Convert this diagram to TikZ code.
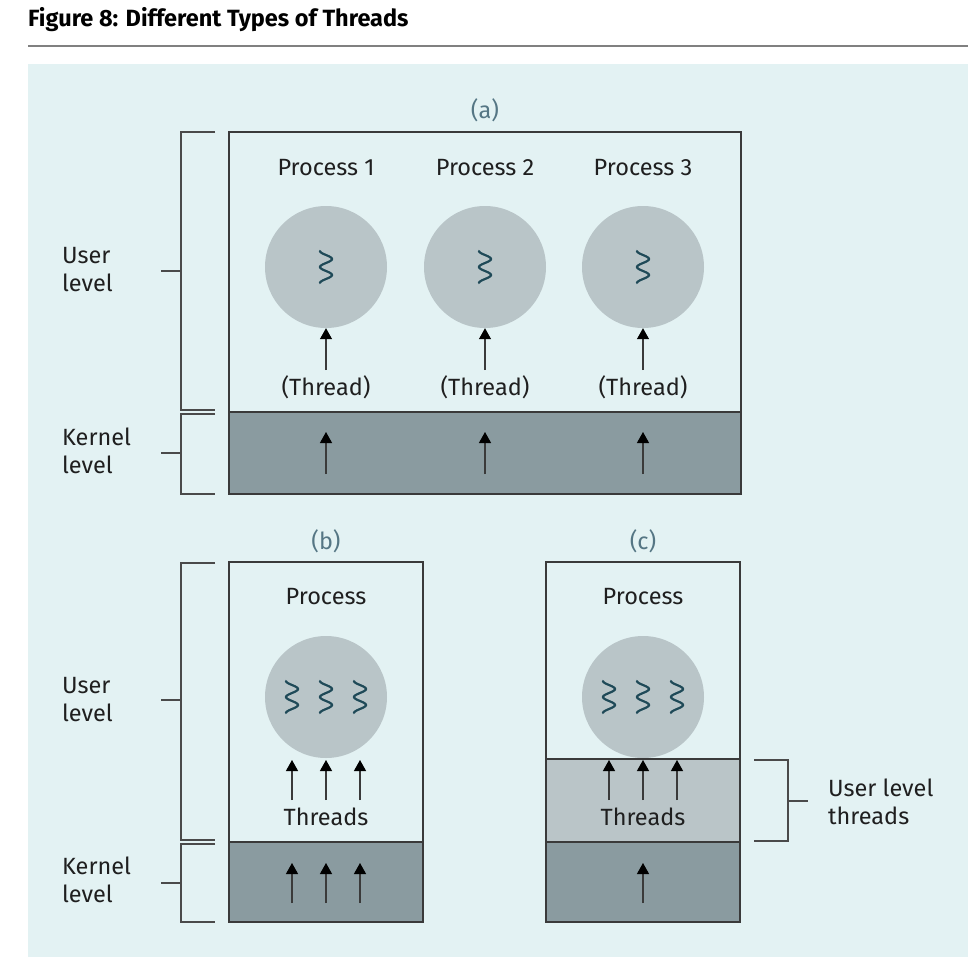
\documentclass[tikz,border=0pt]{standalone}
\usepackage{fontspec}
\setmainfont{Fira Sans}
\usetikzlibrary{arrows.meta}
\definecolor{bgc}{HTML}{E3F2F3}
\definecolor{circc}{HTML}{B9C5C8}
\definecolor{kerc}{HTML}{8A9BA0}
\definecolor{bandc}{HTML}{BAC5C8}
\definecolor{labc}{HTML}{557684}
\definecolor{squigc}{HTML}{1F4A58}
\definecolor{linec}{HTML}{3A3A3A}
\definecolor{brc}{HTML}{4A4A4A}
\newcommand{\squigat}[2]{\draw[squig] plot[variable=\t,domain=0:1,samples=60,smooth] ({#1-6*cos(720*\t)},{#2-16+32*\t});}
\begin{document}
\begin{tikzpicture}[x=1pt,y=-1pt,
  txt/.style={font=\fontsize{23.5}{28}\selectfont, text=black!88, inner sep=1pt},
  sub/.style={font=\fontsize{23.5}{28}\selectfont, text=labc, inner sep=1pt},
  side/.style={font=\fontsize{23.5}{28}\selectfont, text=black!88, align=left, anchor=west, inner sep=0pt},
  proc/.style={circle, fill=circc, minimum size=122pt, inner sep=0pt},
  boxline/.style={draw=linec, line width=1.4pt},
  arr/.style={draw=linec, line width=1.3pt, -{Triangle[width=12pt,length=11pt,color=black]}},
  squig/.style={draw=squigc, line width=2.2pt, line cap=round},
  brk/.style={draw=brc, line width=1.4pt}
]
\useasboundingbox (0,0) rectangle (978,962);
\fill[white] (0,0) rectangle (978,962);
% title
\node[anchor=west, font=\fontsize{23.5}{27}\selectfont\bfseries, inner sep=0pt] (title) at (28,20) {Figure 8: Different Types of Threads};
\draw[draw=black!50, line width=1.2pt] (28,46) -- (968,46);
\fill[bgc] (28,64) rectangle (968,957);

% ===== (a) =====
\node[sub] (la) at (485,110) {(a)};
\fill[bgc] (229,132) rectangle (741,412);
\fill[kerc] (229,412) rectangle (741,494);
\draw[boxline] (229,132) rectangle (741,494);
\draw[boxline] (229,412) -- (741,412);
\foreach \i/\px in {1/326,2/485,3/643}{
  \node[txt] (p\i) at (\px,168) {Process \i};
  \node[proc] (c\i) at (\px,267) {};
  \squigat{\px}{267}
  \node[txt] (t\i) at (\px,387) {(Thread)};
  \draw[arr] (\px,370) -- (c\i.south);
  \coordinate (ka\i) at (\px,474);
  \coordinate (kb\i) at (\px,432);
  \draw[arr] (ka\i) -- (kb\i);
}
% brackets (a)
\draw[brk] (215,132) -- (181,132) -- (181,410) -- (215,410);
\draw[brk] (161,271) -- (181,271);
\draw[brk] (215,414) -- (181,414) -- (181,494) -- (215,494);
\draw[brk] (161,453) -- (181,453);
\node[side] (ula) at (62,270) {User\\level};
\node[side] (kla) at (62,451) {Kernel\\level};

% ===== (b) =====
\node[sub] (lb) at (326,541) {(b)};
\fill[kerc] (229,842) rectangle (423,922);
\draw[boxline] (229,562) rectangle (423,922);
\draw[boxline] (229,842) -- (423,842);
\node[txt] (pb) at (326,597) {Process};
\node[proc] (cb) at (326,697) {};
\foreach \px in {292,326,360}{
  \squigat{\px}{697}
  \draw[arr] (\px,800) -- (\px,760);
  \draw[arr] (\px,903) -- (\px,863);
}
\node[txt] (thb) at (326,817) {Threads};
\draw[brk] (215,563) -- (181,563) -- (181,840) -- (215,840);
\draw[brk] (161,700) -- (181,700);
\draw[brk] (215,844) -- (181,844) -- (181,922) -- (215,922);
\draw[brk] (161,883) -- (181,883);
\node[side] (ulb) at (62,700) {User\\level};
\node[side] (klb) at (62,880) {Kernel\\level};

% ===== (c) =====
\node[sub] (lc) at (643,541) {(c)};
\node[txt] (pc) at (643,597) {Process};
\node[proc] (cc) at (643,697) {};
\foreach \px in {609,643,677}{
  \squigat{\px}{697}
}
\fill[bandc] (546,759) rectangle (740,842);
\fill[kerc] (546,842) rectangle (740,922);
\draw[boxline] (546,562) rectangle (740,922);
\draw[boxline] (546,759) -- (740,759);
\draw[boxline] (546,842) -- (740,842);
\foreach \px in {609,643,677}{
  \draw[arr] (\px,800) -- (\px,760);
}
\node[txt] (thc) at (643,817) {Threads};
\draw[arr] (643,903) -- (643,863);
\draw[brk] (754,760) -- (788,760) -- (788,841) -- (754,841);
\draw[brk] (788,801) -- (808,801);
\node[side] (ult) at (828,802) {User level\\threads};
\end{tikzpicture}
\end{document}
